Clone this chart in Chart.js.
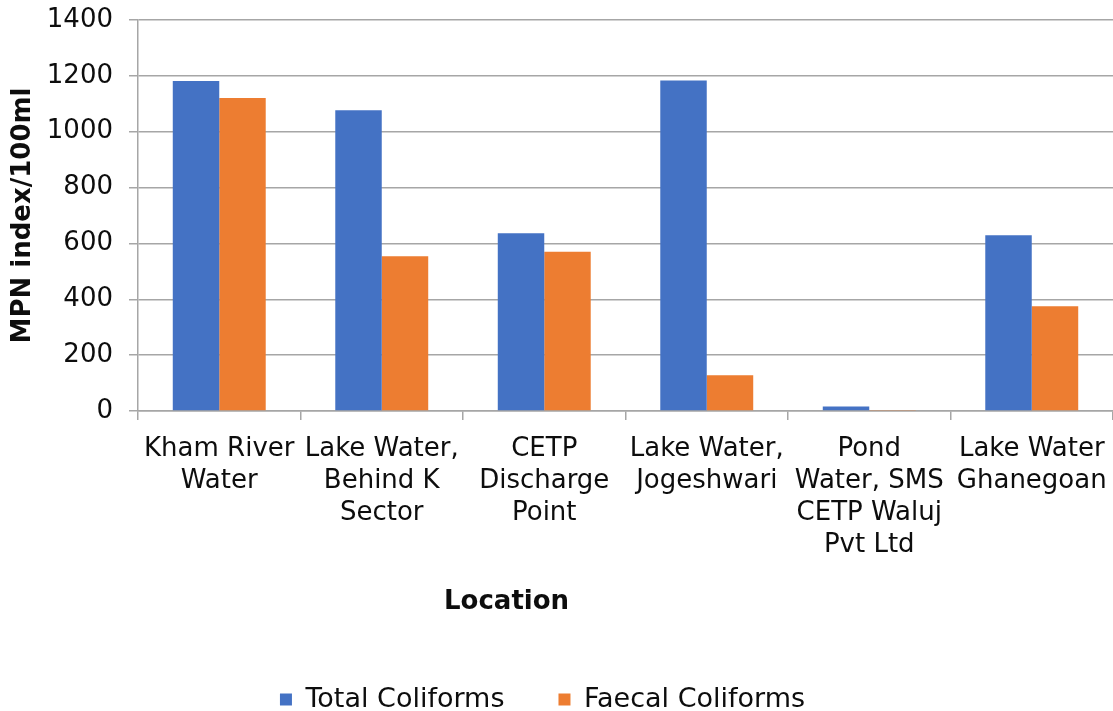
<!DOCTYPE html>
<html>
<head>
<meta charset="utf-8">
<script src="https://cdn.jsdelivr.net/npm/chart.js@4/dist/chart.umd.min.js"></script>
<style>
  html, body { margin: 0; padding: 0; background: #fff; }
  #wrap { width: 1113px; height: 711px; }
</style>
</head>
<body>
<div id="wrap"><canvas id="myChart" width="1113" height="711"></canvas></div>
<script>
// sampling locations (wrapped the way they show under the axis)
var LOCATIONS = [
  ['Kham River', 'Water'],
  ['Lake Water,', 'Behind K', 'Sector'],
  ['CETP', 'Discharge', 'Point'],
  ['Lake Water,', 'Jogeshwari'],
  ['Pond', 'Water, SMS', 'CETP Waluj', 'Pvt Ltd'],
  ['Lake Water', 'Ghanegoan']
];

// MPN index / 100ml
var TOTAL_COLIFORMS  = [1182, 1077, 636, 1183, 16, 629];
var FAECAL_COLIFORMS = [1121, 554, 570, 128, 4, 375];

var Y_MIN = 0, Y_MAX = 1400, Y_STEP = 200;

var FONT = 'DejaVu Sans';
var TEXT = '#0d0d0d';
var GRID = '#a6a6a6';

// x axis title sits left of centre, so draw it by hand
var locationTitle = {
  id: 'locationTitle',
  afterDraw: function(chart) {
    var ctx = chart.ctx;
    var area = chart.chartArea;
    ctx.save();
    ctx.font = 'bold 26px ' + FONT;
    ctx.fillStyle = TEXT;
    ctx.textAlign = 'center';
    ctx.textBaseline = 'middle';
    ctx.fillText('Location', area.left + (area.right - area.left) * 0.378, 602);
    ctx.restore();
  }
};

// nudge the legend a bit to the left
var legendShift = {
  id: 'legendShift',
  afterLayout: function(chart) {
    chart.legend.left -= 14;
    chart.legend.right -= 14;
  }
};

var ctx = document.getElementById('myChart').getContext('2d');
var chart = new Chart(ctx, {
  type: 'bar',
  data: {
    labels: LOCATIONS,
    datasets: [{
      label: 'Total Coliforms',
      backgroundColor: '#4472C4',
      data: TOTAL_COLIFORMS
    }, {
      label: 'Faecal Coliforms',
      backgroundColor: '#ED7D31',
      data: FAECAL_COLIFORMS
    }]
  },
  options: {
    responsive: false,
    animation: false,
    layout: { padding: { top: 0, right: 0, bottom: -12, left: 0 } },
    datasets: {
      bar: { barPercentage: 1.0, categoryPercentage: 0.572 }
    },
    scales: {
      x: {
        grid: {
          offset: true,
          drawOnChartArea: false,
          color: GRID,
          tickLength: 9,
          lineWidth: 1.5
        },
        border: { color: GRID, width: 1.5 },
        ticks: {
          color: TEXT,
          font: { family: FONT, size: 26, lineHeight: 1.23 },
          maxRotation: 0,
          autoSkip: false,
          padding: 13
        },
        afterFit: function(scale) {
          scale.height = 221;
          scale.paddingLeft = 0;
          scale.paddingRight = 0;
        }
      },
      y: {
        min: Y_MIN,
        max: Y_MAX,
        grid: { color: GRID, tickLength: 9, lineWidth: 1.5 },
        border: { color: GRID, width: 1.5 },
        ticks: {
          stepSize: Y_STEP,
          color: TEXT,
          font: { family: FONT, size: 26 },
          padding: 16,
          callback: function(v) { return String(v); }
        },
        title: {
          display: true,
          text: 'MPN index/100ml',
          color: TEXT,
          font: { family: FONT, size: 26, weight: 'bold' },
          padding: { top: 8, bottom: 0 }
        },
        afterFit: function(scale) {
          scale.width = 138;
          scale.paddingTop = 20;
          scale.paddingBottom = 0;
        }
      }
    },
    plugins: {
      legend: {
        position: 'bottom',
        labels: {
          color: TEXT,
          font: { family: FONT, size: 27 },
          boxWidth: 12,
          boxHeight: 12,
          padding: 54
        }
      },
      tooltip: { enabled: false }
    }
  },
  plugins: [locationTitle, legendShift]
});
</script>
</body>
</html>
